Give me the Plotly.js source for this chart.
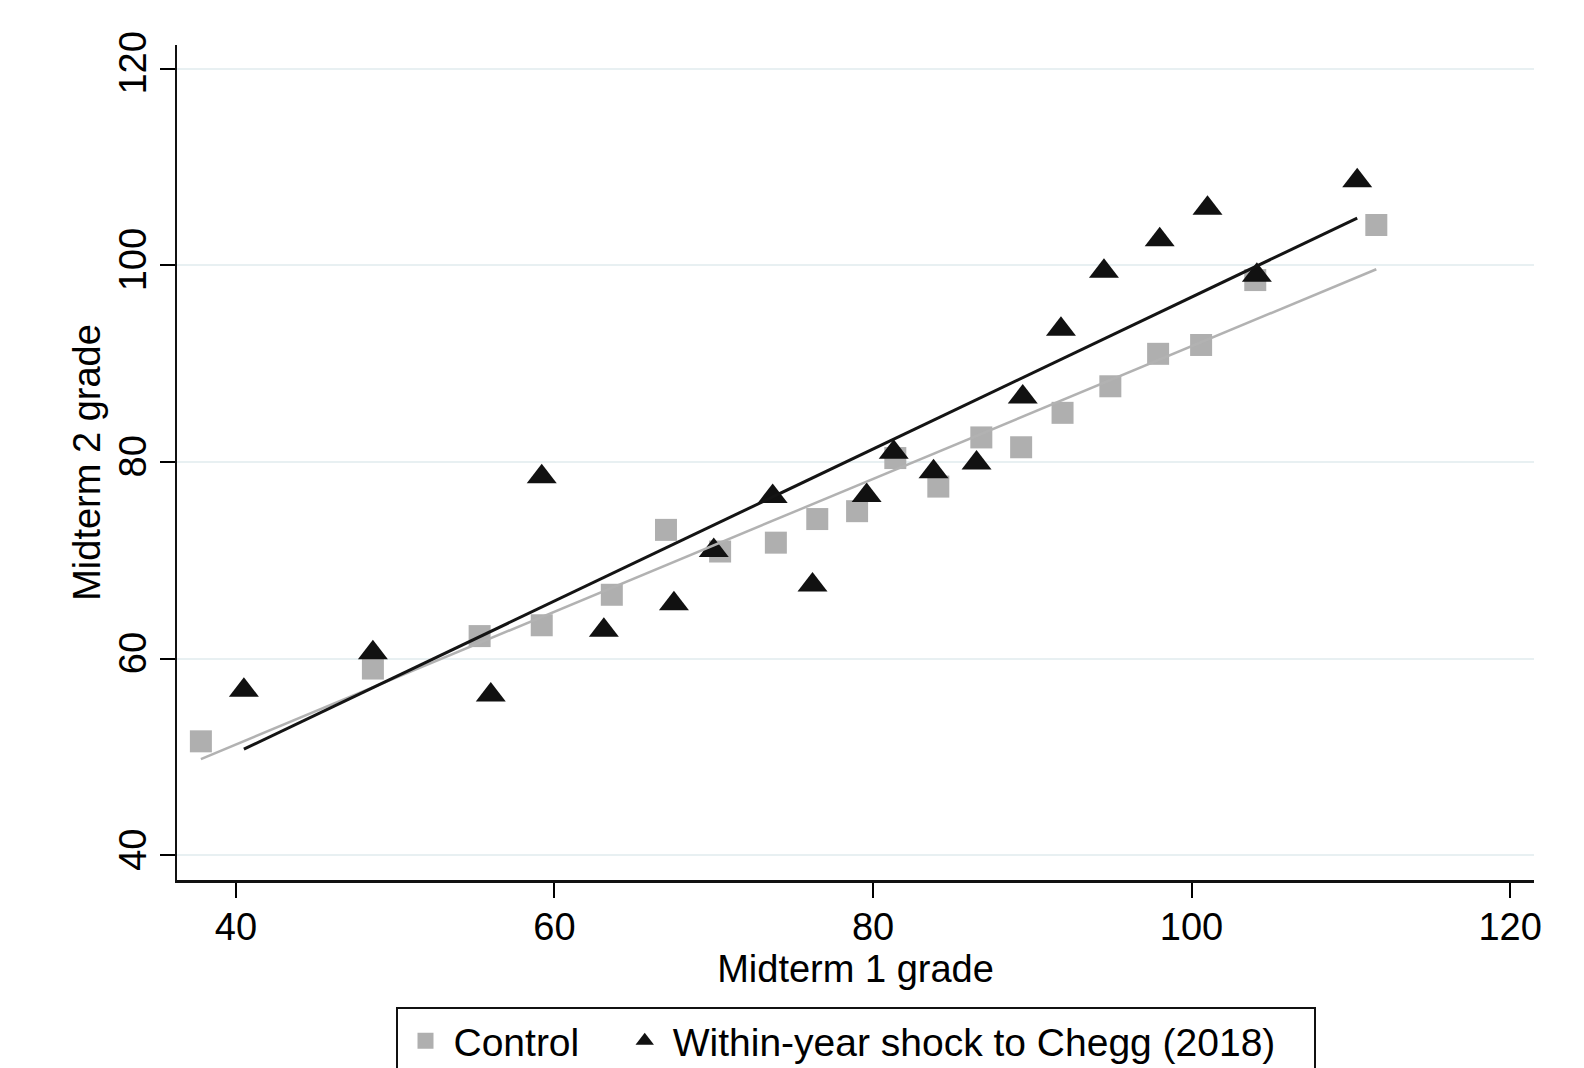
<!DOCTYPE html>
<html>
<head>
<meta charset="utf-8">
<script src="https://cdn.plot.ly/plotly-3.0.1.min.js"></script>
<style>
  html, body { margin: 0; padding: 0; background: #ffffff; }
  #chart { width: 1584px; height: 1068px; }
</style>
</head>
<body>
<div id="chart"></div>
<script>
// Binned scatter: Control group
const controlX = [37.8, 48.6, 55.3, 59.2, 63.6, 67.0, 70.4, 73.9, 76.5, 79.0, 81.4, 84.1, 86.8, 89.3, 91.9, 94.9, 97.9, 100.6, 104.0, 111.6];
const controlY = [51.6, 59.0, 62.3, 63.4, 66.5, 73.1, 70.9, 71.8, 74.2, 75.0, 80.4, 77.5, 82.5, 81.5, 85.0, 87.7, 91.0, 91.9, 98.5, 104.1];

// Binned scatter: Within-year shock to Chegg (2018)
const shockX = [40.5, 48.6, 56.0, 59.2, 63.1, 67.5, 70.0, 73.7, 76.2, 79.6, 81.3, 83.8, 86.5, 89.4, 91.8, 94.5, 98.0, 101.0, 104.1, 110.4];
const shockY = [56.8, 60.6, 56.3, 78.5, 62.9, 65.6, 71.0, 76.5, 67.5, 76.6, 81.0, 79.0, 79.9, 86.6, 93.5, 99.4, 102.6, 105.8, 99.0, 108.6];

// Linear fit lines (endpoints)
const controlFitX = [37.8, 111.6];
const controlFitY = [49.8, 99.6];
const shockFitX = [40.5, 110.4];
const shockFitY = [50.8, 104.8];

// Labels
const xTitle = "Midterm 1 grade";
const yTitle = "Midterm 2 grade";
const controlName = "Control";
const shockName = "Within-year shock to Chegg (2018)";
const tickVals = [40, 60, 80, 100, 120];

const FONT = "Liberation Sans, Arial, sans-serif";
const PAD = "\u00A0\u00A0\u00A0";

const traces = [
  {
    x: controlX, y: controlY, type: "scatter", mode: "markers", name: controlName + PAD,
    marker: { symbol: "square", size: 22, color: "#afafaf" }
  },
  {
    x: shockX, y: shockY, type: "scatter", mode: "markers", name: shockName + PAD,
    marker: { symbol: "triangle-up", size: 26, color: "#111111" }
  },
  {
    x: controlFitX, y: controlFitY, type: "scatter", mode: "lines", showlegend: false,
    line: { color: "#b2b2b2", width: 2.5 }, hoverinfo: "skip"
  },
  {
    x: shockFitX, y: shockFitY, type: "scatter", mode: "lines", showlegend: false,
    line: { color: "#141414", width: 3 }, hoverinfo: "skip"
  }
];

const layout = {
  width: 1584, height: 1068,
  paper_bgcolor: "#ffffff", plot_bgcolor: "#ffffff",
  font: { family: FONT, size: 38, color: "#000000" },
  margin: { l: 177, r: 50, t: 45, b: 188, autoexpand: false },
  showlegend: true,
  xaxis: {
    range: [36.3, 121.5],
    tickvals: tickVals,
    ticks: "outside", ticklen: 15, tickwidth: 2, tickcolor: "#000000",
    ticklabelstandoff: -3,
    showline: true, linecolor: "#111111", linewidth: 2.5,
    showgrid: false, zeroline: false,
    tickfont: { family: FONT, size: 38, color: "#000000" },
    title: { text: xTitle, font: { family: FONT, size: 38, color: "#000000" }, standoff: 0 }
  },
  yaxis: {
    range: [37.5, 122.4],
    tickvals: tickVals,
    tickangle: -90,
    ticks: "outside", ticklen: 15, tickwidth: 2, tickcolor: "#000000",
    ticklabelstandoff: -2,
    showline: true, linecolor: "#111111", linewidth: 2.5,
    showgrid: true, gridcolor: "#e8f0f2", gridwidth: 2,
    zeroline: false,
    tickfont: { family: FONT, size: 38, color: "#000000" },
    title: { text: yTitle, font: { family: FONT, size: 38, color: "#000000" }, standoff: 0 }
  },
  legend: {
    orientation: "h",
    x: 0.5, xanchor: "center",
    y: -0.152, yanchor: "top",
    bordercolor: "#111111", borderwidth: 2,
    bgcolor: "#ffffff",
    itemwidth: 46,
    font: { family: FONT, size: 39, color: "#000000" },
    traceorder: "normal"
  }
};

Plotly.newPlot("chart", traces, layout, { displayModeBar: false, staticPlot: true });
</script>
</body>
</html>
